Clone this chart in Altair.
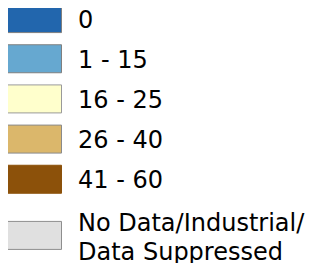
import altair as alt
import pandas as pd

labels = ["0", "1 - 15", "16 - 25", "26 - 40", "41 - 60", "No Data/Industrial/\nData Suppressed"]
colors = ["#2266ad", "#66a8d0", "#ffffcc", "#dbb76b", "#8c510a", "#e0e0e0"]
strokes = ["#7f7f7f", "#7f7f7f", "#9a9a9a", "#8a8a8a", "#8c510a", "#8e8e8e"]

df = pd.DataFrame({"label": labels, "color": colors, "stroke": strokes})
main = df.iloc[:5]
last = df.iloc[5:]

yenc = alt.Y("label:N", sort=labels,
             scale=alt.Scale(domain=labels, range=[-9.5, 231.5], paddingInner=0, paddingOuter=0),
             axis=None)

def layers(data, off, toff):
    base = alt.Chart(data)
    sw = base.mark_bar(height=28, strokeWidth=1, yOffset=off).encode(
        x=alt.value(-0.5), x2=alt.value(53.5), y=yenc,
        fill=alt.Fill("color:N", scale=None),
        stroke=alt.Stroke("stroke:N", scale=None),
    )
    tx = base.mark_text(align="left", baseline="middle", font="DejaVu Sans", fontSize=24,
                        lineHeight=29, color="#000000", yOffset=toff, lineBreak="\n").encode(
        x=alt.value(70), y=yenc, text="label:N"
    )
    return [sw, tx]

chart = alt.layer(*layers(main, 0, 2), *layers(last, 16, 5)).properties(
    width=298, height=255, padding=0, autosize=alt.AutoSizeParams(type="none"),
    background="white"
).configure_view(stroke=None)

chart.save("out.html", embed_options={"renderer": "svg", "actions": False})
